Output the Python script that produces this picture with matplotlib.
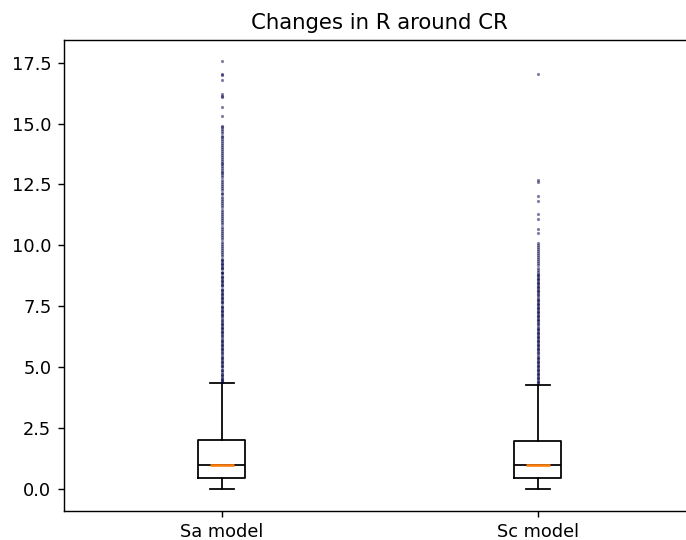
import matplotlib
matplotlib.use("Agg")
import matplotlib.pyplot as plt

# box statistics for the two models
labels = ["Sa model", "Sc model"]
q1 = [0.44, 0.45]
med = [1.00, 1.01]
q3 = [2.01, 1.98]
whislo = [0.0, 0.0]
whishi = [4.37, 4.28]

# outliers above the upper whisker
sa_fliers = [
    17.55, 17.02, 16.98, 16.79, 16.20, 16.14, 16.08, 15.66, 15.31,
    14.92, 14.85, 14.78, 14.70, 14.62, 14.51, 14.44, 14.36, 14.27, 14.20,
    14.11, 14.02, 13.95, 13.88, 13.79, 13.70, 13.63, 13.55, 13.48, 13.40,
    13.33, 13.25, 13.18, 13.10, 13.03, 12.96,
    12.88, 12.79, 12.70, 12.61, 12.52, 12.44, 12.35, 12.26, 12.17, 12.09,
    12.00, 11.91, 11.82, 11.73, 11.65, 11.56, 11.47, 11.38, 11.30, 11.21,
    11.12, 11.03, 10.95, 10.86, 10.77, 10.68, 10.60, 10.51, 10.42, 10.33,
    10.25, 10.16, 10.07, 9.98, 9.90, 9.81, 9.72, 9.63, 9.55, 9.46, 9.37,
    9.28, 9.20, 9.11, 9.02, 8.93, 8.85, 8.76, 8.67, 8.58, 8.50, 8.41, 8.32,
    8.23, 8.15, 8.06, 7.97, 7.88, 7.80, 7.71, 7.62, 7.53, 7.45, 7.36, 7.27,
    7.18, 7.10, 7.01, 6.92, 6.83, 6.75, 6.66, 6.57, 6.48, 6.40, 6.31, 6.22,
    6.13, 6.05, 5.96, 5.87, 5.78, 5.70, 5.61, 5.52, 5.43, 5.35, 5.26, 5.17,
    5.08, 5.00, 4.91, 4.82, 4.73, 4.65, 4.56, 4.47, 4.40,
    9.42, 9.24, 9.06, 8.88, 8.71, 8.53, 8.36, 8.18, 8.01, 7.84, 7.66, 7.49,
    7.31, 7.14, 6.96, 6.79, 6.62, 6.44, 6.27, 6.09, 5.92, 5.74, 5.57, 5.40,
    5.22, 5.05, 4.87, 4.70, 4.52, 4.43,
]
sc_fliers = [
    17.02, 12.70, 12.62, 12.02, 11.82, 11.31, 11.10, 10.69, 10.52,
    10.11, 10.03, 9.94, 9.86, 9.77, 9.69, 9.60, 9.52, 9.43, 9.35, 9.26,
    9.18, 9.09, 9.01, 8.92, 8.84, 8.75, 8.67, 8.58, 8.50, 8.41, 8.33, 8.24,
    8.16, 8.07, 7.99, 7.90, 7.82, 7.73, 7.65, 7.56, 7.48, 7.39, 7.31, 7.22,
    7.14, 7.05, 6.97, 6.88, 6.80, 6.71, 6.63, 6.54, 6.46, 6.37, 6.29, 6.20,
    6.12, 6.03, 5.95, 5.86, 5.78, 5.69, 5.61, 5.52, 5.44, 5.35, 5.27, 5.18,
    5.10, 5.01, 4.93, 4.84, 4.76, 4.67, 4.59, 4.50, 4.42, 4.34,
    8.80, 8.62, 8.45, 8.29, 8.12, 7.95, 7.78, 7.61, 7.44, 7.27, 7.10, 6.93,
    6.76, 6.59, 6.42, 6.25, 6.08, 5.91, 5.74, 5.57, 5.40, 5.23, 5.06, 4.89,
    4.72, 4.55, 4.38,
]

DPI = 127.4


def draw_boxes():
    fig = plt.figure(figsize=(686 / DPI, 540 / DPI), dpi=DPI)
    ax = fig.add_axes([0.0929, 0.0545, 0.9213, 0.8714])

    fliers = [sa_fliers, sc_fliers]
    stats = []
    for i in range(len(labels)):
        stats.append(dict(label=labels[i], q1=q1[i], med=med[i], q3=q3[i],
                          whislo=whislo[i], whishi=whishi[i], fliers=fliers[i]))

    positions = [1, 2]
    widths = 0.15
    ax.bxp(stats, positions=positions, widths=widths,
           medianprops=dict(color="black"),
           flierprops=dict(marker="o", markersize=1.8, markeredgewidth=0,
                           markerfacecolor="#000048", alpha=0.5))
    # orange median over the middle part of each box
    ax.hlines(med, [p - widths / 4 for p in positions],
              [p + widths / 4 for p in positions], colors="C1", zorder=3)

    ax.set_title("Changes in R around CR")
    fig.savefig("out.png", dpi=DPI)
    plt.close(fig)


if __name__ == "__main__":
    draw_boxes()
